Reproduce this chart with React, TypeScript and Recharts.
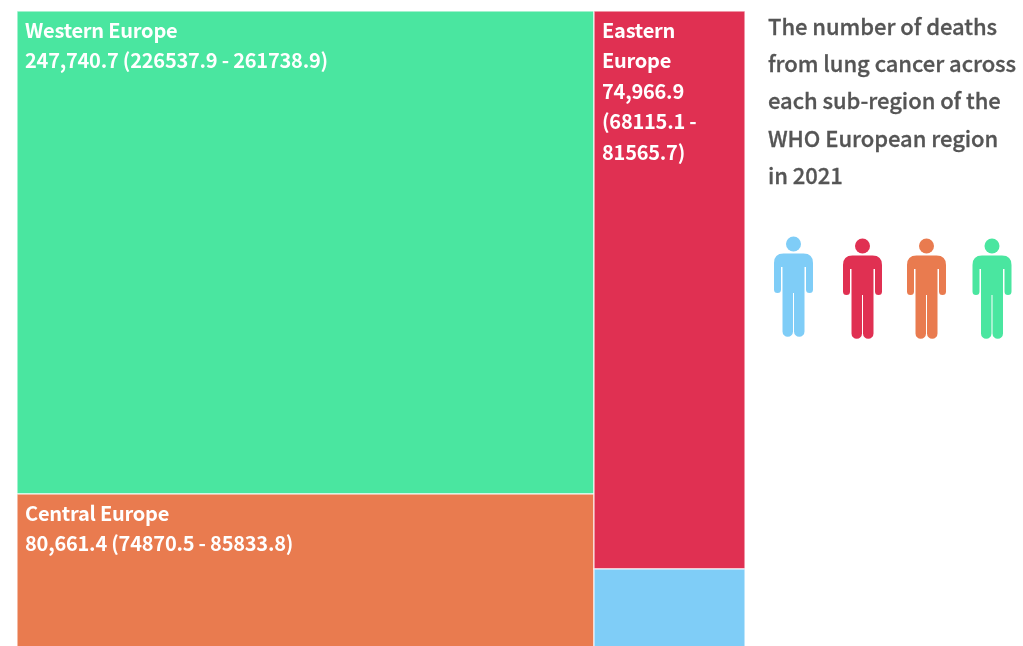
import React from "react";
import { Treemap } from "recharts";

const regions = ["Western Europe", "Central Europe", "Eastern Europe", "Central Asia"];
const deaths = [247740.7, 80661.4, 74966.9, 10970];
const colors = ["#4ae6a0", "#e97b4f", "#e03052", "#7fcdf7"];
const labelLines = [
  ["Western Europe", "247,740.7 (226537.9 - 261738.9)"],
  ["Central Europe", "80,661.4 (74870.5 - 85833.8)"],
  ["Eastern", "Europe", "74,966.9", "(68115.1 -", "81565.7)"],
  [],
];
const titleLines = [
  "The number of deaths",
  "from lung cancer across",
  "each sub-region of the",
  "WHO European region",
  "in 2021",
];
const peopleColors = ["#7fcdf7", "#e03052", "#e97b4f", "#4ae6a0"];
const peopleX = [793.5, 862.5, 926.5, 992];
const peopleTop = [236, 238, 238, 238];

const treeData = regions.map((name, i) => ({ name, value: deaths[i], idx: i }));
const FONT = '"Noto Sans CJK SC", "Noto Sans", sans-serif';

function Tile(props: any) {
  const { x, y, width, height, depth, idx } = props;
  if (depth !== 1) return null;
  const lines = labelLines[idx] || [];
  return (
    <g>
      <rect x={x} y={y} width={width} height={height} fill={colors[idx]} stroke="#ffffff" strokeOpacity={0.7} strokeWidth={1.4} />
      {lines.map((t: string, i: number) => (
        <text key={i} x={x + 8} y={y + 27 + i * 30.4} fill="#ffffff" fontFamily={FONT} fontSize={20} fontWeight={700} letterSpacing={-0.23}>
          {t}
        </text>
      ))}
    </g>
  );
}

const personPath =
  "M-10,17.5H10Q19.5,17.5 19.5,27V53.5A3.5,3.5 0 0 1 12.5,53.5V31H11V95.5A5.25,5.25 0 0 1 0.5,95.5V57H-0.5V95.5A5.25,5.25 0 0 1 -11,95.5V31H-12.5V53.5A3.5,3.5 0 0 1 -19.5,53.5V27Q-19.5,17.5 -10,17.5Z";

export default function App() {
  return (
    <div style={{ position: "fixed", left: 0, top: 0, width: 1023, height: 646, overflow: "hidden", background: "#fff", filter: "blur(0.5px)" }}>
      <div style={{ position: "absolute", left: 17, top: 11 }}>
        <Treemap
          width={728}
          height={640}
          data={treeData}
          dataKey="value"
          nameKey="name"
          type="flat"
          isAnimationActive={false}
          content={<Tile />}
        />
      </div>
      <div style={{ position: "absolute", left: 768, top: 7, fontFamily: FONT, fontSize: 22, fontWeight: 500, letterSpacing: -0.05, lineHeight: "37.2px", color: "#555555", WebkitTextStroke: "0.3px #555555", whiteSpace: "nowrap" }}>
        {titleLines.map((t) => (
          <div key={t}>{t}</div>
        ))}
      </div>
      <svg width={1023} height={646} style={{ position: "absolute", left: 0, top: 0 }}>
        {peopleColors.map((c, i) => (
          <g key={c} transform={`translate(${peopleX[i]},${peopleTop[i]})`} fill={c}>
            <circle cx={0} cy={8} r={7.5} />
            <path d={personPath} />
          </g>
        ))}
      </svg>
    </div>
  );
}
